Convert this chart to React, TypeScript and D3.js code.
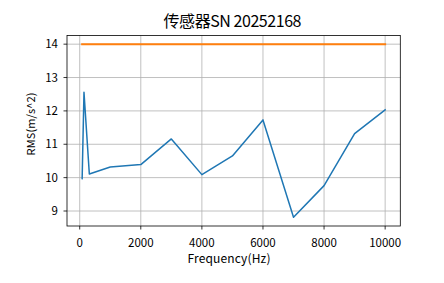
import React from "react";
import * as d3 from "d3";

const freqs = [80, 140, 315, 1000, 2000, 3000, 4000, 5000, 6000, 7000, 8000, 9000, 10000];
const rmsValues = [9.97, 12.56, 10.11, 10.32, 10.39, 11.16, 10.09, 10.65, 11.73, 8.81, 9.76, 11.32, 12.03];
const limitFreqs = [80, 10000];
const limitValues = [14.0, 14.0];
const xTicks = [0, 2000, 4000, 6000, 8000, 10000];
const yTicks = [9, 10, 11, 12, 13, 14];
const title = "传感器SN 20252168";
const xLabel = "Frequency(Hz)";
const yLabel = "RMS(m/s^2)";

const W = 444;
const H = 283;
const L = 67;
const R = 400.3;
const T = 35.5;
const B = 226;
const FONT = "'Noto Sans CJK SC', sans-serif";

export default function App() {
  const allX = [...freqs, ...limitFreqs];
  const allY = [...rmsValues, ...limitValues];
  const [x0, x1] = d3.extent(allX) as [number, number];
  const [y0, y1] = d3.extent(allY) as [number, number];
  const px = (x1 - x0) * 0.05;
  const py = (y1 - y0) * 0.05;
  const x = d3.scaleLinear().domain([x0 - px, x1 + px]).range([L, R]);
  const y = d3.scaleLinear().domain([y0 - py, y1 + py]).range([B, T]);

  const line = d3
    .line<[number, number]>()
    .x((d) => x(d[0]))
    .y((d) => y(d[1]));
  const blue = line(freqs.map((f, i) => [f, rmsValues[i]]));
  const orange = line(limitFreqs.map((f, i) => [f, limitValues[i]]));

  return (
    <svg
      width={W}
      height={H}
      style={{ position: "absolute", left: 0, top: 0, background: "#fff" }}
      fontFamily={FONT}
    >
      <rect x={0} y={0} width={W} height={H} fill="#fff" />
      <g stroke="#b0b0b0" strokeWidth={0.8}>
        {xTicks.map((t) => (
          <line key={"gx" + t} x1={x(t)} x2={x(t)} y1={T} y2={B} />
        ))}
        {yTicks.map((t) => (
          <line key={"gy" + t} x1={L} x2={R} y1={y(t)} y2={y(t)} />
        ))}
      </g>
      <path d={blue || ""} fill="none" stroke="#1f77b4" strokeWidth={1.5} strokeLinejoin="round" strokeLinecap="square" />
      <path d={orange || ""} fill="none" stroke="#ff7f0e" strokeWidth={2} strokeLinecap="square" />
      <rect x={L} y={T} width={R - L} height={B - T} fill="none" stroke="#000" strokeWidth={0.8} />
      <g stroke="#000" strokeWidth={0.8}>
        {xTicks.map((t) => (
          <line key={"tx" + t} x1={x(t)} x2={x(t)} y1={B} y2={B + 3.5} />
        ))}
        {yTicks.map((t) => (
          <line key={"ty" + t} x1={L - 3.5} x2={L} y1={y(t)} y2={y(t)} />
        ))}
      </g>
      <g fontSize={11.5} fill="#000">
        {xTicks.map((t) => (
          <text key={"lx" + t} x={x(t)} y={246.5} textAnchor="middle">
            {t}
          </text>
        ))}
        {yTicks.map((t) => (
          <text key={"ly" + t} x={L - 9} y={y(t)} dy="0.36em" textAnchor="end">
            {t}
          </text>
        ))}
      </g>
      <text
        x={229}
        y={263}
        textAnchor="middle"
        fontSize={12}
        textLength={83}
        lengthAdjust="spacing"
      >
        {xLabel}
      </text>
      <text
        transform={`translate(35,124) rotate(-90)`}
        textAnchor="middle"
        fontSize={11}
        textLength={63}
        lengthAdjust="spacing"
      >
        {yLabel}
      </text>
      <text
        x={232.5}
        y={27}
        textAnchor="middle"
        fontSize={16}
        textLength={138}
        lengthAdjust="spacing"
      >
        {title}
      </text>
    </svg>
  );
}
